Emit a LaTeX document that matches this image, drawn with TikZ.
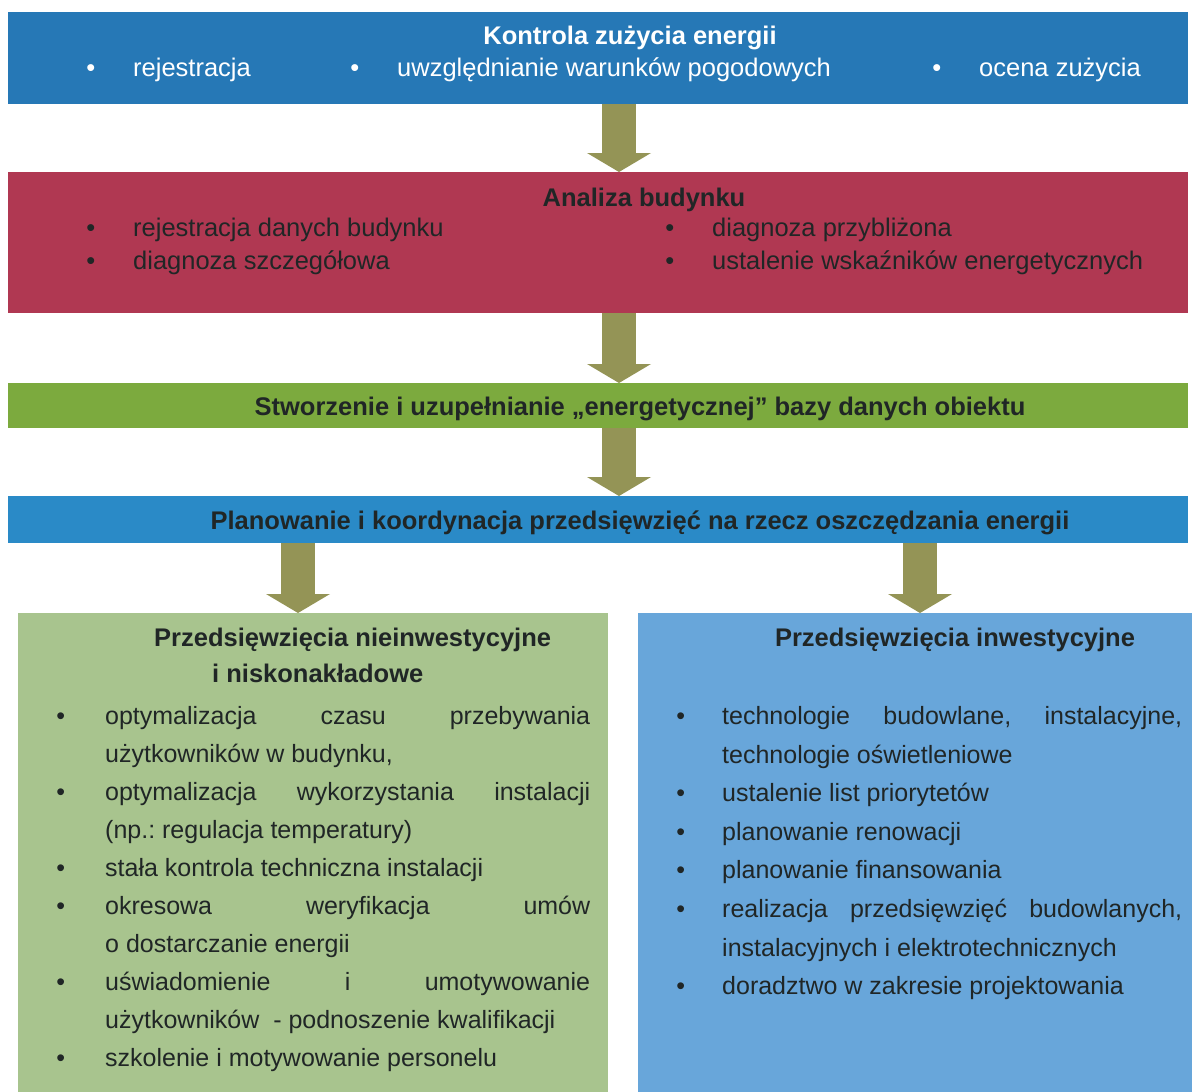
\documentclass[tikz,border=0pt]{standalone}
\usepackage{fontspec}
\setmainfont{Liberation Sans}
\usepackage{xcolor}
\usepackage{tikz}
\usetikzlibrary{arrows.meta,positioning}

\definecolor{ctrlblue}{RGB}{38,120,182}
\definecolor{planblue}{RGB}{42,138,199}
\definecolor{analred}{RGB}{176,56,82}
\definecolor{basegreen}{RGB}{124,170,62}
\definecolor{lowgreen}{RGB}{168,196,142}
\definecolor{invblue}{RGB}{104,166,218}
\definecolor{olive}{RGB}{148,148,86}
\definecolor{ink}{RGB}{32,38,38}

\newcommand{\bul}[1][38pt]{\leavevmode\llap{•\hspace{#1}}}
\newcommand{\listsetup}{\frenchspacing\tolerance=10000\hbadness=10000\hyphenpenalty=10000\parskip=0pt\parindent=0pt}

\begin{document}
\begin{tikzpicture}[
  x=1pt, y=-1pt,
  band/.style={rectangle, inner sep=0pt, outer sep=0pt, anchor=north west},
  head/.style={font=\fontsize{25.5}{30}\selectfont\bfseries, text=ink, anchor=base, inner sep=0pt},
  item/.style={font=\fontsize{25.5}{30}\selectfont, text=ink, anchor=base west, inner sep=0pt},
  list/.style={font=\fontsize{25}{38}\selectfont, text=ink, anchor=base west, inner sep=0pt},
  flow/.style={draw=olive, line width=34pt, -{Triangle[width=64pt, length=19pt, line width=0pt]}}
]
\path[use as bounding box, fill=white] (0,0) rectangle (1195,1092);

% bands
\node[band, fill=ctrlblue, minimum width=1180pt, minimum height=92pt] (ctrl) at (8,12) {};
\node[band, fill=analred, minimum width=1180pt, minimum height=141pt] (anal) at (8,172) {};
\node[band, fill=basegreen, minimum width=1180pt, minimum height=45pt] (base) at (8,383) {};
\node[band, fill=planblue, minimum width=1180pt, minimum height=47pt] (plan) at (8,496) {};
\node[band, fill=lowgreen, minimum width=590pt, minimum height=479pt] (cheap) at (18,613) {};
\node[band, fill=invblue, minimum width=554pt, minimum height=479pt] (invest) at (638,613) {};

% texts
\node[head, text=white] (ctrltitle) at (630,44) {Kontrola zużycia energii};
\node[item, text=white] (ctrla) at (133,76.5) {\bul rejestracja};
\node[item, text=white] (ctrlb) at (397,76.5) {\bul uwzględnianie warunków pogodowych};
\node[item, text=white] (ctrlc) at (979,76.5) {\bul ocena zużycia};

\node[head] (analtitle) at (644,206) {Analiza budynku};
\node[item] (anala) at (133,236.5) {\bul rejestracja danych budynku};
\node[item] (analb) at (133,269.5) {\bul diagnoza szczegółowa};
\node[item] (analc) at (712,236.5) {\bul diagnoza przybliżona};
\node[item] (anald) at (712,269.5) {\bul ustalenie wskaźników energetycznych};

\node[head] (basetitle) at (640,415) {Stworzenie i uzupełnianie „energetycznej” bazy danych obiektu};
\node[head] (plantitle) at (640,529) {Planowanie i koordynacja przedsięwzięć na rzecz oszczędzania energii};

\node[head, anchor=base west] (cheaptitle) at (154,646) {Przedsięwzięcia nieinwestycyjne};
\node[head, anchor=base west] (cheaptitleb) at (212,682) {i niskonakładowe};
\node[list] (cheaplist) at (105,724.5) {\parbox[t]{485pt}{\listsetup
  \bul[40pt]optymalizacja czasu przebywania\linebreak użytkowników w budynku,\par
  \bul[40pt]optymalizacja wykorzystania instalacji\linebreak (np.: regulacja temperatury)\par
  \bul[40pt]stała kontrola techniczna instalacji\par
  \bul[40pt]okresowa weryfikacja umów\linebreak o dostarczanie energii\par
  \bul[40pt]uświadomienie i umotywowanie\linebreak użytkowników~ - podnoszenie kwalifikacji\par
  \bul[40pt]szkolenie i motywowanie personelu}};

\node[head] (investtitle) at (955,646) {Przedsięwzięcia inwestycyjne};
\node[list, font=\fontsize{25}{38.6}\selectfont] (investlist) at (722,724.5) {\parbox[t]{460pt}{\listsetup
  \bul[37pt]technologie budowlane, instalacyjne,\linebreak technologie oświetleniowe\par
  \bul[37pt]ustalenie list priorytetów\par
  \bul[37pt]planowanie renowacji\par
  \bul[37pt]planowanie finansowania\par
  \bul[37pt]realizacja przedsięwzięć budowlanych,\linebreak instalacyjnych i elektrotechnicznych\par
  \bul[37pt]doradztwo w zakresie projektowania}};

% arrows
\coordinate (spine) at (619,0);
\coordinate (lspine) at (298,0);
\coordinate (rspine) at (920,0);
\draw[flow] (ctrl.south -| spine) -- (anal.north -| spine);
\draw[flow] (anal.south -| spine) -- (base.north -| spine);
\draw[flow] (base.south -| spine) -- (plan.north -| spine);
\draw[flow] (plan.south -| lspine) -- (cheap.north -| lspine);
\draw[flow] (plan.south -| rspine) -- (invest.north -| rspine);

\end{tikzpicture}
\end{document}
